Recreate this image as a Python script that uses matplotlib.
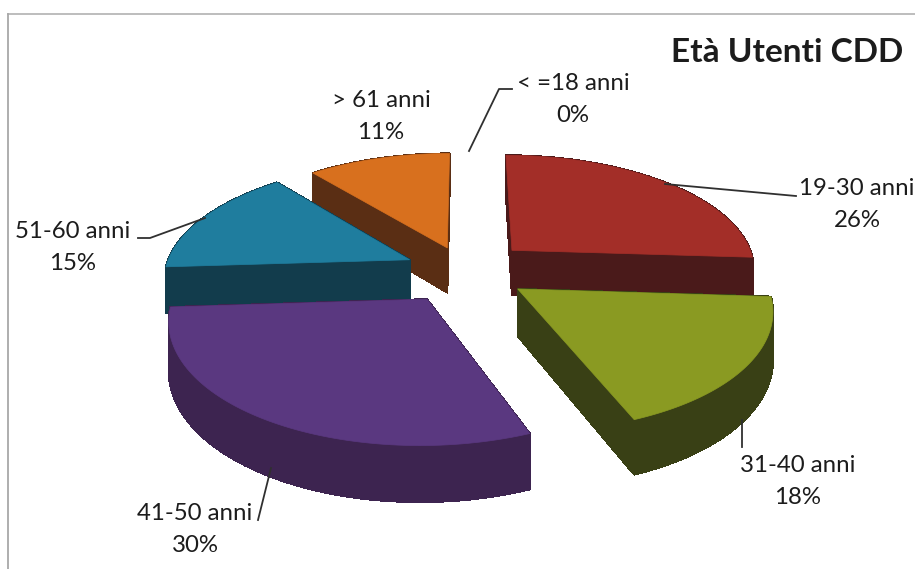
import numpy as np
import matplotlib
matplotlib.use("Agg")
import matplotlib.pyplot as plt
from matplotlib.patches import Polygon

title = "Età Utenti CDD"
categories = ["< =18 anni", "19-30 anni", "31-40 anni", "41-50 anni", "51-60 anni", "> 61 anni"]
values = [0, 26, 18, 30, 15, 11]
explode = [0, 0.27, 0.26, 0.28, 0.25, 0.22]
top_colors = ["#c0c0c0", "#a32e28", "#8a9a22", "#5a3880", "#1f7d9e", "#d8701e"]
side_colors = ["#808080", "#4a1a1a", "#394015", "#3d2450", "#123c4c", "#5a2e14"]
label_xy = [(573, 99), (857, 204), (798, 481), (195, 530), (73, 247), (381, 116)]
leaders = [[(512, 89), (499, 89), (469, 151)], [(796, 196), (665, 184)], [(742, 447), (742, 420)],
           [(271, 468), (258, 520)], [(138, 238), (150, 238), (205, 218)], []]
draw_order = [5, 4, 1, 2, 3]

CX, CY, RX, K, P, DEPTH = 465, 271, 245, 115, 0.15, 46

plt.rcParams["font.family"] = "Lato"
fig = plt.figure(figsize=(9.15, 5.69), dpi=100)
ax = fig.add_axes([0, 0, 1, 1])
ax.set_xlim(0, 915)
ax.set_ylim(569, 0)
ax.axis("off")


def project(x, y, z=0.0):
    s = 1 / (1 + P * y)
    return np.column_stack([CX + RX * x * s, CY - K * y * s + DEPTH * z * s])


fractions = np.array(values) / sum(values)
edges = np.concatenate([[0], np.cumsum(fractions)]) * 2 * np.pi
for i in draw_order:
    a0, a1 = edges[i], edges[i + 1]
    mid = (a0 + a1) / 2
    ox, oy = explode[i] * np.sin(mid), explode[i] * np.cos(mid)
    t = np.linspace(a0, a1, 80)
    ax_, ay_ = ox + np.sin(t), oy + np.cos(t)
    top = project(np.r_[ox, ax_], np.r_[oy, ay_])
    bot = project(np.r_[ox, ax_], np.r_[oy, ay_], 1)
    n = len(top)
    for j in range(n):
        k = (j + 1) % n
        ax.add_patch(Polygon([top[j], top[k], bot[k], bot[j]], closed=True, fc=side_colors[i],
                             ec=side_colors[i], lw=0.8, antialiased=False))
    ax.add_patch(Polygon(top, closed=True, fc=top_colors[i], ec=top_colors[i], lw=0.5))

for pts in leaders:
    if pts:
        ax.plot(*zip(*pts), color="#303030", lw=1.3)
for c, v, (x, y) in zip(categories, values, label_xy):
    ax.text(x, y - 16, c, ha="center", va="center", fontsize=17.3, color="#1c1c1c")
    ax.text(x, y + 16, f"{v}%", ha="center", va="center", fontsize=17.3, color="#1c1c1c")
ax.text(903, 52, title, ha="right", va="center", fontsize=24, fontweight="bold", color="#1c1c1c")
ax.plot([8, 915], [14, 14], color="#b8b8b8", lw=1.3)
ax.plot([8, 8], [14, 569], color="#a8a8a8", lw=1.3)
fig.savefig("out.png", dpi=100)
